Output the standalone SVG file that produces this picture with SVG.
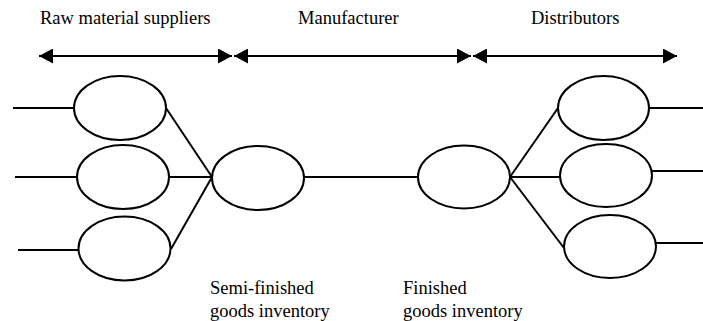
<svg xmlns="http://www.w3.org/2000/svg" width="703" height="321" viewBox="0 0 703 321">
<style>
.n{fill:#fff;stroke:#000;stroke-width:2}
.c line{stroke:#000;stroke-width:2}
</style>
<defs>
<marker id="ah" viewBox="0 0 14 15" refX="14" refY="7.5" markerWidth="14" markerHeight="15" markerUnits="userSpaceOnUse" orient="auto-start-reverse">
<path d="M0,0 L14,7.5 L0,15 Z" fill="#000"/>
</marker>
</defs>
<rect width="703" height="321" fill="#fff"/>
<g id="labels" font-family="Liberation Serif, serif" font-size="18.5" fill="#000">
<text x="40" y="24">Raw material suppliers</text>
<text x="298" y="24">Manufacturer</text>
<text x="531" y="24">Distributors</text>
<text x="210" y="294">Semi-finished</text>
<text x="210" y="317">goods inventory</text>
<text x="403" y="294">Finished</text>
<text x="403" y="317">goods inventory</text>
</g>
<g id="connectors" class="c">
<line x1="39" y1="56" x2="232" y2="56" marker-start="url(#ah)" marker-end="url(#ah)"/>
<line x1="234" y1="56" x2="471" y2="56" marker-start="url(#ah)" marker-end="url(#ah)"/>
<line x1="473" y1="56" x2="677" y2="56" marker-start="url(#ah)" marker-end="url(#ah)"/>
<line x1="13" y1="108" x2="74" y2="108"/>
<line x1="15" y1="177" x2="77" y2="177"/>
<line x1="18" y1="250" x2="78" y2="250"/>
<line x1="166" y1="108" x2="212" y2="177"/>
<line x1="169" y1="177" x2="212" y2="177"/>
<line x1="171" y1="249" x2="212" y2="177"/>
<line x1="304" y1="177" x2="418" y2="177"/>
<line x1="510" y1="177" x2="558" y2="108"/>
<line x1="510" y1="177" x2="560" y2="177"/>
<line x1="510" y1="177" x2="564" y2="248"/>
<line x1="649" y1="108" x2="703" y2="108"/>
<line x1="652" y1="171" x2="703" y2="171"/>
<line x1="656" y1="243" x2="703" y2="243"/>
</g>
<g id="supplier1"><ellipse class="n" cx="120" cy="108" rx="46" ry="32"/></g>
<g id="supplier2"><ellipse class="n" cx="123" cy="177" rx="46" ry="32"/></g>
<g id="supplier3"><ellipse class="n" cx="124.5" cy="248.5" rx="46" ry="32"/></g>
<g id="semi-finished"><ellipse class="n" cx="258" cy="178" rx="46" ry="32"/></g>
<g id="finished"><ellipse class="n" cx="464" cy="177" rx="46" ry="31.5"/></g>
<g id="distributor1"><ellipse class="n" cx="603.5" cy="108" rx="45.5" ry="32"/></g>
<g id="distributor2"><ellipse class="n" cx="606" cy="175.5" rx="46" ry="31.5"/></g>
<g id="distributor3"><ellipse class="n" cx="610" cy="246.5" rx="46" ry="31.5"/></g>
</svg>
